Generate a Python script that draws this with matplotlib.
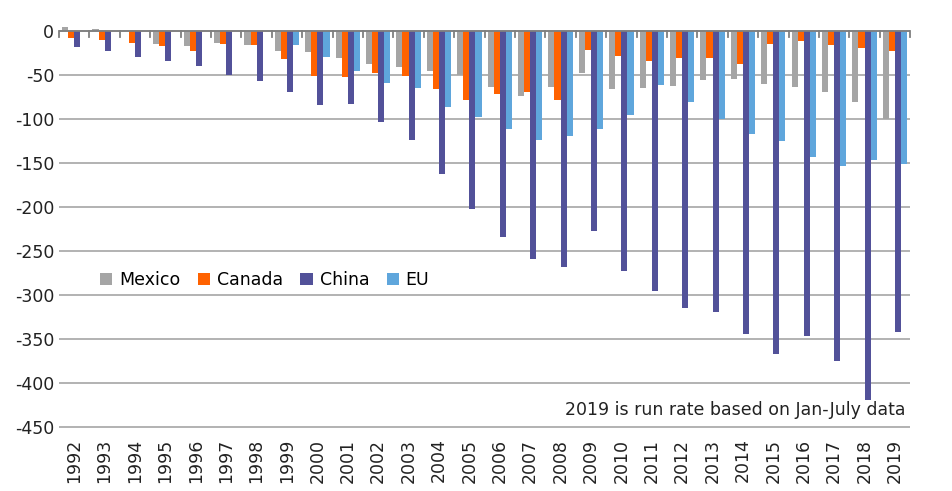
import numpy as np
import matplotlib.pyplot as plt

plt.rcParams['axes.unicode_minus'] = False

years = [str(y) for y in range(1992, 2020)]
mexico = [5, 2, 1, -15, -17, -14, -16, -23, -24, -30, -37, -41, -45, -50, -64, -74, -64,
          -48, -66, -65, -62, -55, -54, -60, -63, -69, -81, -100]
canada = [-8, -10, -14, -17, -22, -15, -16, -32, -51, -52, -48, -51, -66, -78, -72, -69, -78,
          -21, -28, -34, -31, -31, -37, -15, -11, -16, -19, -22]
china = [-18, -23, -29, -34, -40, -50, -57, -69, -84, -83, -103, -124, -162, -202, -234, -259,
         -268, -227, -273, -295, -315, -319, -344, -367, -347, -375, -419, -342]
eu = [np.nan] * 7 + [-16, -29, -45, -59, -65, -86, -98, -111, -124, -119, -111, -95, -61,
                     -80, -100, -117, -125, -143, -153, -147, -151]

fig = plt.figure(figsize=(9.52, 4.91), dpi=100)
ax = fig.add_axes([0.062, 0.118, 0.894, 0.84])

x = np.arange(len(years))
w = 0.2
ax.bar(x - 1.5 * w, mexico, w, color='#a5a5a5', label='Mexico', zorder=2)
ax.bar(x - 0.5 * w, canada, w, color='#ff6200', label='Canada', zorder=2)
ax.bar(x + 0.5 * w, china, w, color='#525199', label='China', zorder=2)
ax.bar(x + 1.5 * w, eu, w, color='#5fa6dc', label='EU', zorder=2)

ax.set_ylim(-457, 12)
ax.set_xlim(-0.5, len(years) - 0.5)
ax.set_yticks(range(-450, 1, 50))
ax.yaxis.grid(True, color='#a6a6a6', lw=1.2, zorder=0)
ax.tick_params(axis='y', length=0, labelsize=12.5, colors='#222222')
for s in ['left', 'right', 'top', 'bottom']:
    ax.spines[s].set_visible(False)
ax.axhline(0, color='#7f7f7f', lw=1.3, zorder=3)

# category boundary ticks on the zero line
for b in np.arange(-0.5, len(years), 1.0):
    ax.plot([b, b], [0, -7], color='#7f7f7f', lw=1.3, zorder=3, clip_on=False)

ax.set_xticks(x)
ax.set_xticklabels(years, rotation=90, fontsize=12.5, color='#222222')
ax.tick_params(axis='x', length=0, pad=4)

ax.legend(loc='upper left', bbox_to_anchor=(0.03, 0.43), ncol=4, frameon=False,
          fontsize=12.5, handlelength=0.7, handleheight=0.7, columnspacing=1.0,
          handletextpad=0.4)
ax.text(0.995, 0.035, '2019 is run rate based on Jan-July data', transform=ax.transAxes,
        ha='right', va='bottom', fontsize=12.5, color='#222222')

fig.savefig('out.png', dpi=100)
